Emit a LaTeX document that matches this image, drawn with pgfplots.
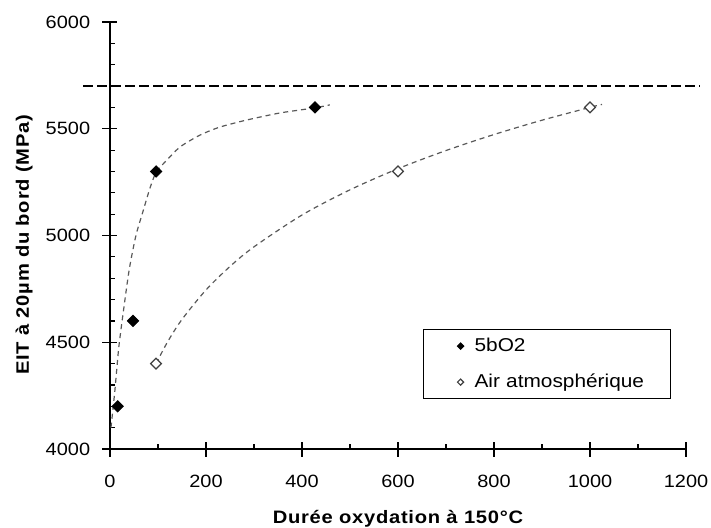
\documentclass[border=0pt]{standalone}
\usepackage{fontspec}
\setmainfont{Liberation Sans}[FakeStretch=1.12]
\newfontfamily\labfont{Liberation Sans}[FakeStretch=1.12,LetterSpace=4]
\usepackage{pgfplots}
\pgfplotsset{compat=1.18}

\definecolor{trend}{gray}{0.35}
\definecolor{openmk}{gray}{0.25}

\begin{document}
\begin{tikzpicture}
\begin{axis}[
  at={(0pt,0pt)}, anchor=south west,
  scale only axis, width=288pt, height=213.5pt,
  xmin=0, xmax=1200, ymin=4000, ymax=6000,
  enlargelimits=false, clip=false,
  axis lines=left, axis line style={-, line width=0.65pt},
  xtick={0,200,...,1200}, ytick={4000,4500,...,6000},
  minor x tick num=1, minor y tick num=4,
  tick align=center, major tick length=7.5pt, minor tick length=2.5pt,
  tick style={line width=0.6pt, black},
  every minor x tick/.append style={yshift=1.25pt},
  every minor y tick/.append style={xshift=1.25pt},
  scaled ticks=false,
  /pgf/number format/1000 sep={},
  /pgf/number format/assume math mode=true,
  tick label style={font=\fontsize{8.9}{10}\selectfont},
  yticklabel style={inner sep=0pt, anchor=east, xshift=-6pt},
  xticklabel style={inner sep=0pt, anchor=north, yshift=-9pt},
  xlabel={\labfont\bfseries Durée oxydation à 150°C},
  ylabel={\labfont\bfseries EIT à 20µm du bord (MPa)},
  xlabel style={at={([yshift=-37pt]axis description cs:0.5,0)}, anchor=base, inner sep=0pt, font=\fontsize{9}{10}\selectfont},
  ylabel style={at={([xshift=-40.5pt]axis description cs:0,0.478)}, anchor=base, inner sep=0pt, font=\fontsize{9}{10}\selectfont},
  legend style={at={(0.5434,0.281)}, anchor=north west, draw=black, line width=0.6pt,
    inner xsep=0pt, inner ysep=0pt, row sep=1.5pt, column sep=0pt,
    font=\fontsize{9.3}{11}\selectfont,
    nodes={inner sep=0pt, text width=98pt, align=left, anchor=west}},
  legend image code/.code={%
    \path[draw=none] (-18.5pt,-8.25pt) rectangle (7pt,8.25pt);
    \draw[mark repeat=1,#1,mark size=1.1pt] plot coordinates {(0pt,0pt)};},
]
% limite horizontale
\addplot[forget plot, black, line width=0.65pt, dash pattern=on 4.75pt off 2.25pt]
  coordinates {(-56,5700) (1229,5700)};
% courbes de tendance
\addplot[forget plot, trend, line width=0.6pt, dash pattern=on 2.5pt off 2pt, smooth, tension=0.4]
  coordinates {(2,4100) (10,4270) (18,4470) (27,4630) (40,4840) (54,5000) (69,5115)
    (83,5220) (96,5297) (115,5345) (146,5415) (188,5471) (229,5508) (285,5541)
    (354,5574) (427,5598) (458,5612)};
\addplot[forget plot, trend, line width=0.6pt, dash pattern=on 2.5pt off 2pt, smooth]
  coordinates {(96,4400) (120,4502) (150,4607) (200,4745) (250,4855) (300,4947)
    (400,5096) (500,5214) (600,5313) (700,5398) (800,5473) (900,5540) (1000,5600) (1025,5614)};
% mesures
\addplot[only marks, mark=square*, mark size=2pt, mark options={rotate=45, fill=black, draw=black}]
  coordinates {(16,4200) (48,4600) (96,5300) (427,5600)};
\addplot[only marks, mark=square*, mark size=1.9pt, mark options={rotate=45, fill=white, draw=openmk, line width=0.6pt}]
  coordinates {(96,4400) (600,5300) (1000,5600)};
\legend{5bO2, Air atmosphérique}
\end{axis}
\pgfresetboundingbox
\path[use as bounding box] (-55pt,-39pt) rectangle (300.5pt,224.5pt);
\end{tikzpicture}
\end{document}
